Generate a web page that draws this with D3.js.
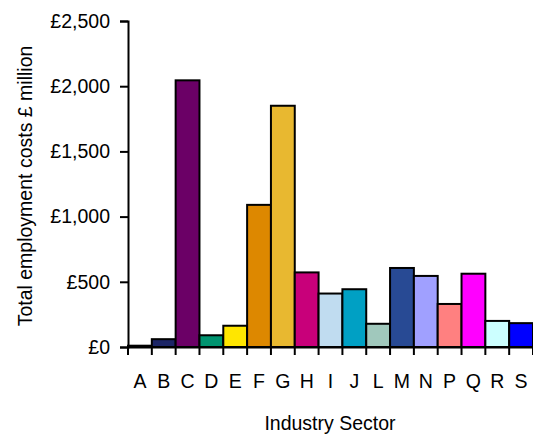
<!DOCTYPE html>
<html>
<head>
<meta charset="utf-8">
<script src="https://cdn.jsdelivr.net/npm/d3@7"></script>
<style>
  html, body { margin: 0; padding: 0; background: #fff; }
  svg { display: block; }
  text { font-family: "Liberation Sans", Arial, sans-serif; fill: #000; }
</style>
</head>
<body>
<svg id="chart" width="533" height="435"></svg>
<script>
const categories = ["A","B","C","D","E","F","G","H","I","J","L","M","N","P","Q","R","S"];
const values = [10, 60, 2045, 90, 163, 1090, 1850, 572, 410, 443, 178, 606, 545, 330, 562, 200, 183];
const colors = ["#1f2a6b","#1c2566","#6b0066","#009470","#ffe600","#dd8800","#e8b830","#c8007a","#c0dcf0","#00a0c4","#a0c8bc","#284a94","#a0a0ff","#ff8080","#ff00ff","#ccffff","#0000ff"];
const yTicks = [0, 500, 1000, 1500, 2000, 2500];
const yTitle = "Total employment costs £ million";
const xTitle = "Industry Sector";

const svg = d3.select("#chart");
const mLeft = 128, mRight = 533, mTop = 21, mBottom = 347;
const fs = "19.5px";

const x = d3.scaleBand().domain(categories).range([mLeft, mRight]).padding(0);
const y = d3.scaleLinear().domain([0, 2500]).range([mBottom, mTop]);

// bars
svg.append("g").selectAll("rect")
  .data(categories)
  .join("rect")
  .attr("x", d => x(d))
  .attr("y", (d, i) => y(values[i]))
  .attr("width", x.bandwidth())
  .attr("height", (d, i) => y(0) - y(values[i]))
  .attr("fill", (d, i) => colors[i])
  .attr("stroke", "#000")
  .attr("stroke-width", 2);

// y axis
const yAxis = svg.append("g")
  .attr("transform", `translate(${mLeft},0)`)
  .call(d3.axisLeft(y).tickValues(yTicks).tickSize(8).tickPadding(10)
    .tickFormat(d => "£" + d3.format(",")(d)));
yAxis.attr("font-family", null);
yAxis.select(".domain").attr("stroke", "#000").attr("stroke-width", 2);
yAxis.selectAll(".tick line").attr("stroke", "#000").attr("stroke-width", 2);
yAxis.selectAll(".tick text").style("font-size", fs);

// x axis
const xAxis = svg.append("g")
  .attr("transform", `translate(0,${mBottom})`)
  .call(d3.axisBottom(x).tickSize(0).tickPadding(26));
xAxis.attr("font-family", null);
xAxis.select(".domain").attr("stroke", "#000").attr("stroke-width", 2);
xAxis.selectAll(".tick text").style("font-size", fs).attr("dy", "0.35em").attr("y", 34);
// tick marks at band boundaries
const boundaries = categories.map(c => x(c)).concat([x(categories[categories.length - 1]) + x.bandwidth()]);
xAxis.append("g").selectAll("line")
  .data(boundaries)
  .join("line")
  .attr("x1", d => d).attr("x2", d => d)
  .attr("y1", 0).attr("y2", 8)
  .attr("stroke", "#000").attr("stroke-width", 2);

// titles
svg.append("text")
  .attr("transform", `translate(25,${(mTop + mBottom) / 2 + 2}) rotate(-90)`)
  .attr("text-anchor", "middle")
  .attr("dominant-baseline", "central")
  .style("font-size", fs)
  .text(yTitle);

svg.append("text")
  .attr("x", 330)
  .attr("y", 430)
  .attr("text-anchor", "middle")
  .style("font-size", fs)
  .text(xTitle);
</script>
</body>
</html>
